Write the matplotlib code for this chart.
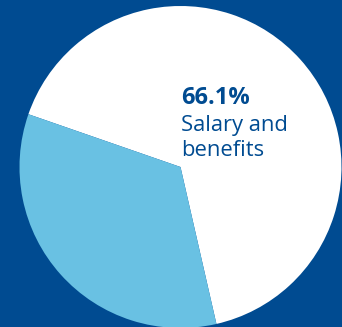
import matplotlib.pyplot as plt

# Expenditure split
labels = ["Salary and benefits", "Other"]
shares = [66.1, 33.9]
colors = ["#ffffff", "#69c1e3"]

navy = "#004b91"

fig = plt.figure(figsize=(3.42, 3.27), dpi=100)
fig.patch.set_facecolor(navy)
ax = fig.add_axes([0, 0, 1, 1])
ax.set_facecolor(navy)

# pie sized in pixel units so it bleeds off the bottom edge
ax.pie(shares, colors=colors, startangle=-77.1, counterclock=True,
       center=(180.5, 160), radius=161,
       wedgeprops=dict(linewidth=0))
ax.set_xlim(0, 342)
ax.set_ylim(0, 327)
ax.set_aspect("auto")
ax.axis("off")

ax.text(181, 223, f"{shares[0]}%", fontsize=17, fontweight="bold",
        color=navy, family="Open Sans", va="baseline", ha="left")
ax.text(181, 195.5, "Salary and", fontsize=15.8, color=navy,
        family="Open Sans", va="baseline", ha="left")
ax.text(181, 171, "benefits", fontsize=15.8, color=navy,
        family="Open Sans", va="baseline", ha="left")

fig.savefig("out.png", dpi=100, facecolor=navy)
